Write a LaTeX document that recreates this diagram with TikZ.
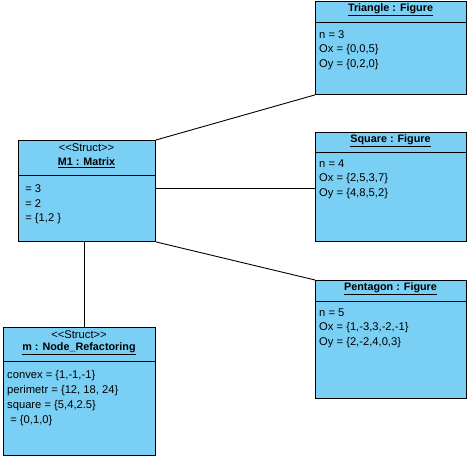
\documentclass[tikz,border=0pt]{standalone}
\usepackage{fontspec}
\setmainfont{Liberation Sans}
\usetikzlibrary{positioning}
\definecolor{objblue}{RGB}{122,207,245}
\tikzset{
  objbox/.style={draw=black,fill=objblue,line width=0.9pt,inner sep=0pt,anchor=north west},
  ttl/.style={font=\fontsize{10.8}{12}\selectfont\bfseries,inner sep=0pt},
  stereo/.style={inner sep=0pt},
  attr/.style={anchor=west,inner sep=0pt},
  link/.style={draw=black,line width=0.9pt}
}
\begin{document}
\begin{tikzpicture}[x=1pt,y=-1pt,font=\fontsize{11.2}{13}\selectfont]
\useasboundingbox (0,0) rectangle (468,457);
%triangle
\node[objbox,minimum width=151pt,minimum height=93pt] (tri) at (315,1) {};
\node[ttl] (tri-t) at (390.5,10) {\underline{Triangle : Figure}};
\draw[link] (tri.west |- 0,22) -- (tri.east |- 0,22);
\node[attr] (tri-n) at (319,35) {n = 3};
\node[attr] (tri-x) at (319,50) {Ox = \{0,0,5\}};
\node[attr] (tri-y) at (319,65) {Oy = \{0,2,0\}};
%square
\node[objbox,minimum width=151pt,minimum height=109pt] (sq) at (315,132) {};
\node[ttl] (sq-t) at (390.5,141) {\underline{Square : Figure}};
\draw[link] (sq.west |- 0,152) -- (sq.east |- 0,152);
\node[attr] (sq-n) at (319,164) {n = 4};
\node[attr] (sq-x) at (319,179) {Ox = \{2,5,3,7\}};
\node[attr] (sq-y) at (319,194) {Oy = \{4,8,5,2\}};
%pentagon
\node[objbox,minimum width=151pt,minimum height=118pt] (pent) at (315,280) {};
\node[ttl] (pent-t) at (390.5,289) {\underline{Pentagon : Figure}};
\draw[link] (pent.west |- 0,301) -- (pent.east |- 0,301);
\node[attr] (pent-n) at (319,313) {n = 5};
\node[attr] (pent-x) at (319,328) {Ox = \{1,-3,3,-2,-1\}};
\node[attr] (pent-y) at (319,343) {Oy = \{2,-2,4,0,3\}};
%matrix
\node[objbox,minimum width=137pt,minimum height=101pt] (mat) at (18,140) {};
\node[stereo] (mat-s) at (86.5,148) {<{}<Struct>{}>};
\node[ttl] (mat-t) at (86.5,163) {\underline{M1 : Matrix}};
\draw[link] (mat.west |- 0,175) -- (mat.east |- 0,175);
\node[attr] (mat-a) at (22,189) {\ = 3};
\node[attr] (mat-b) at (22,204) {\ = 2};
\node[attr] (mat-c) at (22,219) {\ = \{1,2 \}};
%node refactoring
\node[objbox,minimum width=152pt,minimum height=128pt] (nr) at (3,327) {};
\node[stereo] (nr-s) at (79,335) {<{}<Struct>{}>};
\node[ttl] (nr-t) at (79,349) {\underline{m : Node\_Refactoring}};
\draw[link] (nr.west |- 0,361) -- (nr.east |- 0,361);
\node[attr] (nr-a) at (7,376) {convex = \{1,-1,-1\}};
\node[attr] (nr-b) at (7,391) {perimetr = \{12, 18, 24\}};
\node[attr] (nr-c) at (7,406) {square = \{5,4,2.5\}};
\node[attr] (nr-d) at (7,421) {\ = \{0,1,0\}};
%links
\draw[link] (mat.north east) -- (tri.south west);
\draw[link] (mat.east |- 0,188) -- (sq.west |- 0,188);
\draw[link] (mat.south east) -- (pent.north west);
\draw[link] (mat.south -| 84,0) -- (nr.north -| 84,0);
\end{tikzpicture}
\end{document}
